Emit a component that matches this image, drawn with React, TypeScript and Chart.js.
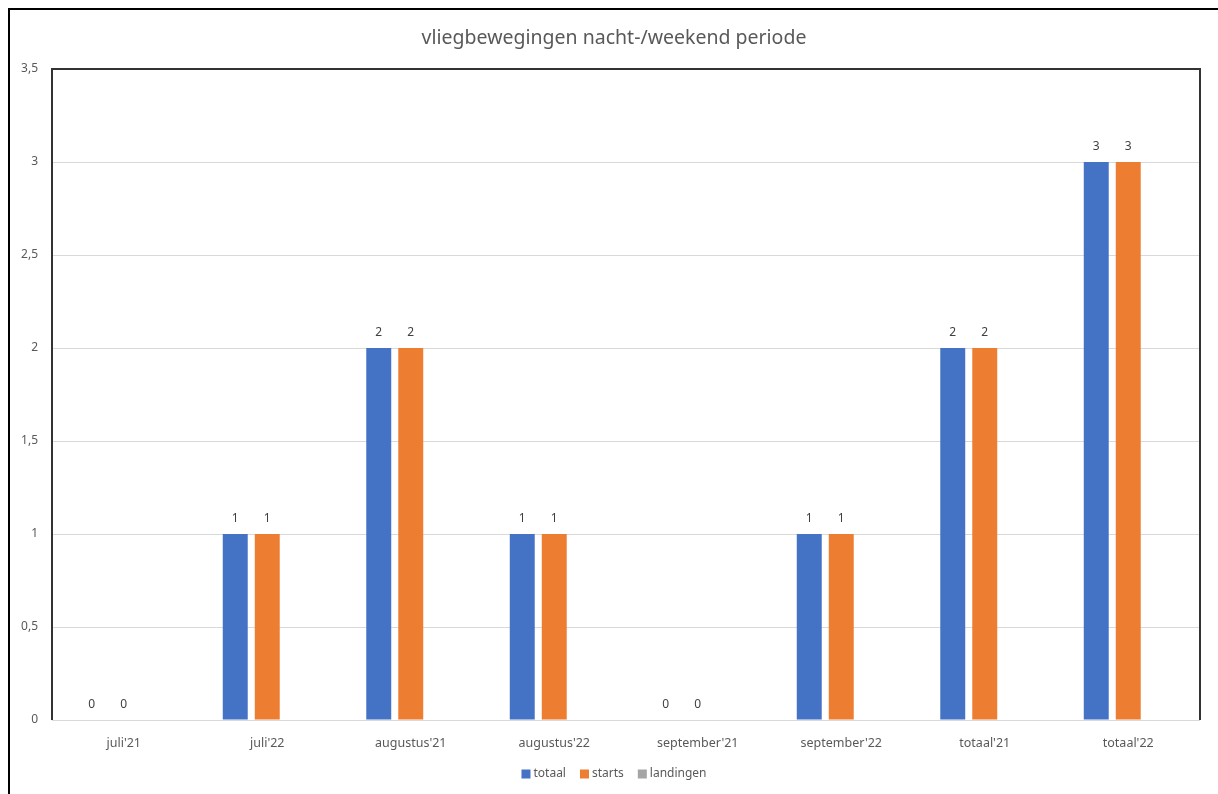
import React, { useEffect, useRef } from 'react';
import { Chart, registerables } from 'chart.js';

Chart.register(...registerables);

const categories = ["juli'21", "juli'22", "augustus'21", "augustus'22", "september'21", "september'22", "totaal'21", "totaal'22"];
const totaal = [0, 1, 2, 1, 0, 1, 2, 3];
const starts = [0, 1, 2, 1, 0, 1, 2, 3];
const landingen = [0, 0, 0, 0, 0, 0, 0, 0];
const yTickLabels = ['0', '0,5', '1', '1,5', '2', '2,5', '3', '3,5'];
const seriesNames = ['totaal', 'starts', 'landingen'];
const seriesColors = ['#4472C4', '#ED7D31', '#A5A5A5'];
const titleText = 'vliegbewegingen nacht-/weekend periode';

const FONT = "'Noto Sans', sans-serif";
const TEXT = '#595959';

const decorPlugin = {
  id: 'decor',
  beforeDatasetsDraw(chart: any) {
    const { ctx, chartArea } = chart;
    const { left, top, right, bottom } = chartArea;
    ctx.save();
    ctx.strokeStyle = '#333333';
    ctx.lineWidth = 2;
    ctx.beginPath();
    ctx.moveTo(left, bottom);
    ctx.lineTo(left, top);
    ctx.lineTo(right, top);
    ctx.lineTo(right, bottom);
    ctx.stroke();
    ctx.strokeStyle = '#d9d9d9';
    ctx.lineWidth = 1;
    ctx.beginPath();
    ctx.moveTo(left, bottom + 0.5);
    ctx.lineTo(right, bottom + 0.5);
    ctx.stroke();
    ctx.restore();
  },
  afterDraw(chart: any) {
    const { ctx, width } = chart;
    ctx.save();
    // title
    ctx.fillStyle = TEXT;
    ctx.font = `19.5px ${FONT}`;
    ctx.textAlign = 'center';
    ctx.textBaseline = 'middle';
    ctx.fillText(titleText, width / 2, 28);

    // data labels for totaal and starts
    ctx.font = `12px ${FONT}`;
    ctx.fillStyle = '#404040';
    [0, 1].forEach((di) => {
      const meta = chart.getDatasetMeta(di);
      meta.data.forEach((bar: any, i: number) => {
        const v = chart.data.datasets[di].data[i];
        ctx.fillText(String(v), bar.x, bar.y - 15);
      });
    });

    // legend
    ctx.font = `12px ${FONT}`;
    const sq = 9;
    const gapText = 3;
    const gapItem = 14;
    const widths = seriesNames.map((n) => ctx.measureText(n).width);
    const total = widths.reduce((a, b) => a + b + sq + gapText, 0) + gapItem * (seriesNames.length - 1);
    let x = width / 2 - total / 2;
    const y = 764;
    ctx.textAlign = 'left';
    seriesNames.forEach((n, i) => {
      ctx.fillStyle = seriesColors[i];
      ctx.fillRect(x, y - sq / 2, sq, sq);
      x += sq + gapText;
      ctx.fillStyle = TEXT;
      ctx.fillText(n, x, y);
      x += widths[i] + gapItem;
    });
    ctx.restore();
  },
};

export default function App() {
  const ref = useRef<HTMLCanvasElement>(null);
  useEffect(() => {
    if (!ref.current) return;
    const chart = new Chart(ref.current, {
      type: 'bar',
      data: {
        labels: categories,
        datasets: [
          { label: seriesNames[0], data: totaal, backgroundColor: seriesColors[0] },
          { label: seriesNames[1], data: starts, backgroundColor: seriesColors[1] },
          { label: seriesNames[2], data: landingen, backgroundColor: seriesColors[2] },
        ],
      },
      options: {
        responsive: false,
        animation: false,
        devicePixelRatio: 1,
        layout: { padding: { top: 59, right: 18, left: 0, bottom: 0 } },
        datasets: { bar: { categoryPercentage: 0.669, barPercentage: 0.78 } },
        plugins: {
          legend: { display: false },
          title: { display: false },
          tooltip: { enabled: false },
        },
        scales: {
          x: {
            grid: { display: false },
            border: { display: false },
            ticks: { color: TEXT, font: { family: FONT, size: 12.5 }, padding: 8, maxRotation: 0, autoSkip: false },
            afterFit: (s: any) => { s.height = 74; },
          },
          y: {
            min: 0,
            max: 3.5,
            grid: { color: '#d9d9d9', lineWidth: 1, drawTicks: false },
            border: { display: false },
            ticks: {
              stepSize: 0.5,
              color: TEXT,
              font: { family: FONT, size: 12 },
              padding: 14,
              callback: (_v: any, i: number) => yTickLabels[i],
            },
            afterFit: (s: any) => { s.width = 42; },
          },
        },
      },
      plugins: [decorPlugin],
    });
    return () => chart.destroy();
  }, []);
  return (
    <div
      style={{
        position: 'absolute',
        left: 8,
        top: 8,
        width: 1210,
        height: 786,
        borderTop: '2px solid #000',
        borderLeft: '2px solid #000',
        boxSizing: 'border-box',
        background: '#fff',
      }}
    >
      <canvas ref={ref} width={1208} height={784} style={{ display: 'block' }} />
    </div>
  );
}
